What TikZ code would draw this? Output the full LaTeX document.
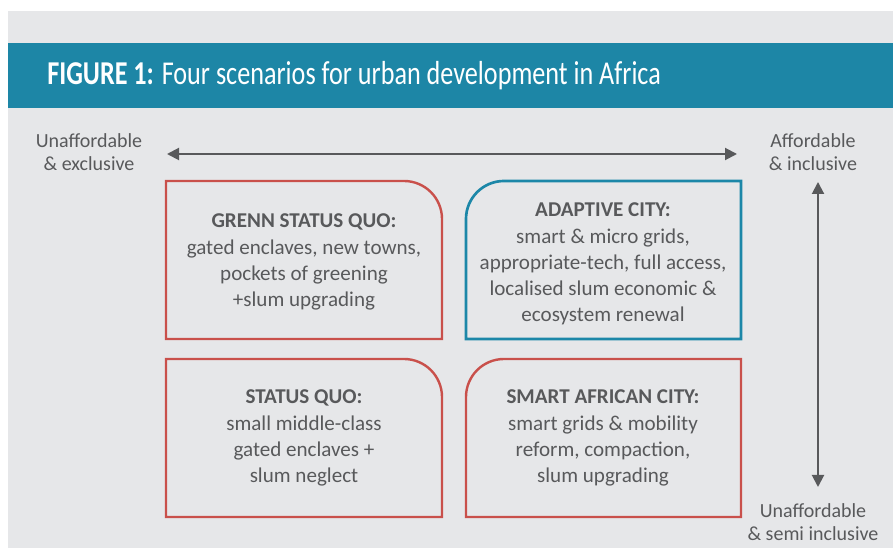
\documentclass[tikz,border=0pt]{standalone}
\usepackage{fontspec}
\setmainfont{Carlito}
\newfontfamily\headfont[FakeStretch=0.785]{Carlito}
\usetikzlibrary{arrows.meta}
\definecolor{bgGrey}{HTML}{E6E7E9}
\definecolor{bandTeal}{HTML}{1D86A6}
\definecolor{txtGrey}{HTML}{58595B}
\definecolor{boxRed}{HTML}{C9504B}
\definecolor{boxBlue}{HTML}{1C87A8}
\begin{document}
\begin{tikzpicture}[x=0.75pt, y=-0.75pt,
  redbox/.style={draw=boxRed, line width=1.8pt},
  bluebox/.style={draw=boxBlue, line width=2pt},
  scentext/.style={align=center, text=txtGrey, font=\fontsize{15.8}{19.6}\selectfont},
  sidetext/.style={align=center, text=txtGrey, font=\fontsize{15}{17.5}\selectfont},
  axis/.style={draw=txtGrey, line width=1.5pt, {Triangle[length=9pt, width=9pt]}-{Triangle[length=9pt, width=9pt]}}]
  \useasboundingbox (0, 0) rectangle (893, 548);
  \fill[white] (0, 0) rectangle (893, 548);
  \fill[bgGrey] (8, 11) rectangle (893, 548);
  \fill[bandTeal] (8, 43) rectangle (893, 108);
  \node[anchor=base west, inner sep=0pt, text=white, font=\headfont\fontsize{25}{30}\selectfont] (title) at (47, 85) {\textbf{FIGURE 1:} Four scenarios for urban development in Africa};
  % the four scenario boxes
  \draw[redbox] (166, 339) -- (166, 181) -- (404, 181) arc[start angle=-90, end angle=0, radius=38] -- (442, 339) -- cycle;
  \draw[bluebox] (741, 339) -- (741, 181) -- (504, 181) arc[start angle=-90, end angle=-180, radius=38] -- (466, 339) -- cycle;
  \draw[redbox] (166, 517) -- (166, 359) -- (404, 359) arc[start angle=-90, end angle=0, radius=38] -- (442, 517) -- cycle;
  \draw[redbox] (741, 517) -- (741, 359) -- (504, 359) arc[start angle=-90, end angle=-180, radius=38] -- (466, 517) -- cycle;
  \node[scentext] (greenquo) at (304, 262) {\textbf{GRENN STATUS QUO:}\\gated enclaves, new towns,\\pockets of greening\\+slum upgrading};
  \node[scentext] (adaptive) at (603, 264) {\textbf{ADAPTIVE CITY:}\\smart \& micro grids,\\appropriate-tech, full access,\\localised slum economic \&\\ecosystem renewal};
  \node[scentext] (statusquo) at (304, 438) {\textbf{STATUS QUO:}\\small middle-class\\gated enclaves +\\slum neglect};
  \node[scentext] (smartcity) at (603, 438) {\textbf{SMART AFRICAN CITY:}\\smart grids \& mobility\\reform, compaction,\\slum upgrading};
  % axis labels and arrows
  \node[sidetext] (unexcl) at (89, 152) {Unaffordable\\\& exclusive};
  \node[sidetext] (affincl) at (813, 152) {Affordable\\\& inclusive};
  \node[sidetext] (unsemi) at (813, 522) {Unaffordable\\\& semi inclusive};
  \coordinate (hleft) at (167, 154);
  \coordinate (hright) at (737, 154);
  \coordinate (vtop) at (818, 182);
  \coordinate (vbottom) at (818, 487);
  \draw[axis] (hleft) -- (hright);
  \draw[axis] (vtop) -- (vbottom);
\end{tikzpicture}
\end{document}
